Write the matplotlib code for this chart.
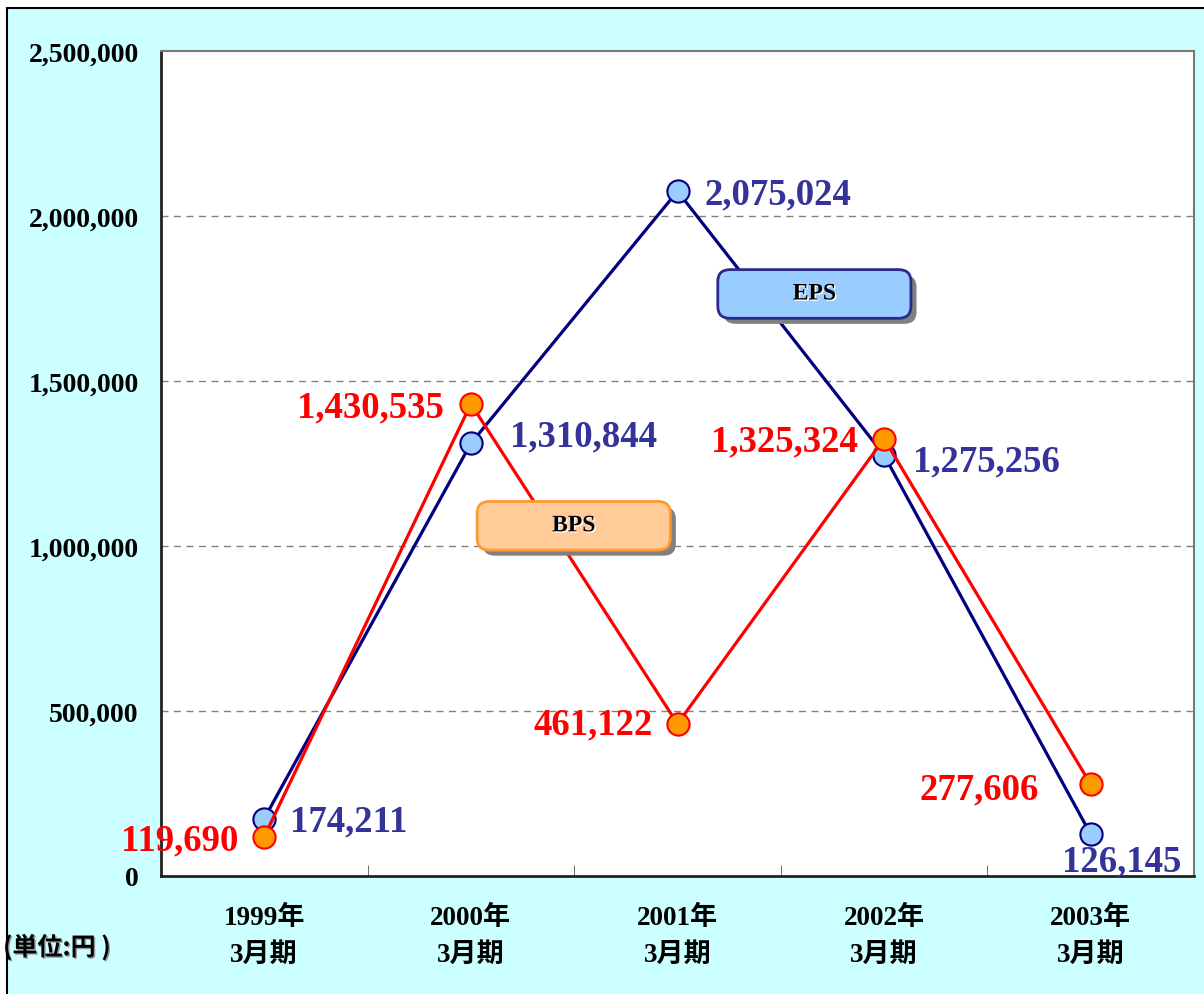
import numpy as np
import matplotlib
matplotlib.use("Agg")
import matplotlib.pyplot as plt
from matplotlib.patches import Rectangle, FancyBboxPatch
from matplotlib import patheffects as pe

# ── data ──────────────────────────────────────────────────────────────
years = ["1999年", "2000年", "2001年", "2002年", "2003年"]
period = "3月期"
eps = [174211, 1310844, 2075024, 1275256, 126145]
bps = [119690, 1430535, 461122, 1325324, 277606]

# label offsets (pixels) relative to each point
eps_off = [(26, -2, "left"), (39, 7, "left"), (27, -3, "left"), (29, -6, "left"), (31, -27, "center")]
bps_off = [(-26, -3, "right"), (-27, -3, "right"), (-25, 0, "right"), (-26, -2, "right"), (-52, -5, "right")]

SERIF = ["Liberation Serif", "Noto Sans CJK JP"]
EPS_LINE, EPS_FACE, EPS_TXT = "#000080", "#99CCFF", "#333399"
BPS_LINE, BPS_FACE, BPS_TXT = "#FF0000", "#FF9900", "#FF0000"

fig = plt.figure(figsize=(12.04, 9.95), dpi=100, facecolor="white")
fig.patches.append(Rectangle((7 / 1204, -0.1), 1.2, 1 - 9 / 995 + 0.1,
                             transform=fig.transFigure, facecolor="#CCFFFF",
                             edgecolor="black", linewidth=1.5, zorder=-10))

ax = fig.add_axes([161 / 1204, 118 / 995, 1033 / 1204, 825 / 995])
ax.set_facecolor("white")

x = np.arange(len(years))
ax.plot(x, eps, color=EPS_LINE, lw=2.3, marker="o", ms=16,
        mfc=EPS_FACE, mec=EPS_LINE, mew=1.5, zorder=4)
ax.plot(x, bps, color=BPS_LINE, lw=2.3, marker="o", ms=16,
        mfc=BPS_FACE, mec=BPS_LINE, mew=1.5, zorder=5)

for xi, v, (dx, dy, ha) in zip(x, eps, eps_off):
    ax.annotate(f"{v:,}", (xi, v), xytext=(dx, dy), textcoords="offset pixels",
                ha=ha, va="center", color=EPS_TXT, fontsize=26.5,
                fontweight="bold", family=SERIF, zorder=6, annotation_clip=False)
for xi, v, (dx, dy, ha) in zip(x, bps, bps_off):
    ax.annotate(f"{v:,}", (xi, v), xytext=(dx, dy), textcoords="offset pixels",
                ha=ha, va="center", color=BPS_TXT, fontsize=26.5,
                fontweight="bold", family=SERIF, zorder=6, annotation_clip=False)

ax.set_xlim(-0.5, len(years) - 0.5)
ax.set_ylim(0, 2500000)
ax.set_yticks(np.arange(0, 2500001, 500000))
ax.set_yticklabels([f"{int(t):,}" for t in ax.get_yticks()],
                   fontsize=20, fontweight="bold", family=SERIF)
ax.set_xticks(x)
ax.set_xticklabels([f"{y}\n{period}" for y in years], fontsize=19.5,
                   fontweight="bold", family=SERIF, linespacing=1.6)
ax.set_xticks(np.arange(-0.5, len(years)), minor=True)
ax.tick_params(axis="x", which="major", length=0, pad=21)
ax.tick_params(axis="x", which="minor", direction="in", length=8, color="#555555")
ax.tick_params(axis="y", length=0, pad=16)

for g in [500000, 1000000, 1500000, 2000000]:
    ax.axhline(g, color="#808080", lw=1, ls=(0, (5, 4)), zorder=1)

for s in ["left", "bottom"]:
    ax.spines[s].set_color("#222222")
    ax.spines[s].set_linewidth(2)
for s in ["top", "right"]:
    ax.spines[s].set_color("#777777")
    ax.spines[s].set_linewidth(1.5)

# legend-like boxes
def tag(x0, y0, w, h, face, edge, label):
    box = FancyBboxPatch((x0, y0), w, h, boxstyle="round,pad=0,rounding_size=0.012",
                         transform=ax.transAxes, facecolor=face, edgecolor=edge,
                         linewidth=2, zorder=7, mutation_aspect=1.2)
    box.set_path_effects([pe.SimplePatchShadow(offset=(4, -4), shadow_rgbFace="#808080", alpha=1),
                          pe.Normal()])
    ax.add_patch(box)
    ax.text(x0 + w / 2, y0 + h / 2, label, transform=ax.transAxes, ha="center",
            va="center", fontsize=17, fontweight="bold", family=SERIF, zorder=8,
            path_effects=[pe.withSimplePatchShadow(offset=(1, -1), shadow_rgbFace="white", alpha=1)])

tag(0.539, 0.676, 0.187, 0.059, EPS_FACE, "#2B2B8C", "EPS")
tag(0.306, 0.395, 0.187, 0.059, "#FFCC99", "#FF9933", "BPS")

fig.text(3 / 1204, 1 - 948 / 995, "(単位:円 )", ha="left", va="center", fontsize=18,
         fontweight="bold", family=["Noto Sans CJK JP", "DejaVu Sans"],
         path_effects=[pe.withSimplePatchShadow(offset=(1, -1), shadow_rgbFace="#999999", alpha=1)])

fig.savefig("out.png", dpi=100)
